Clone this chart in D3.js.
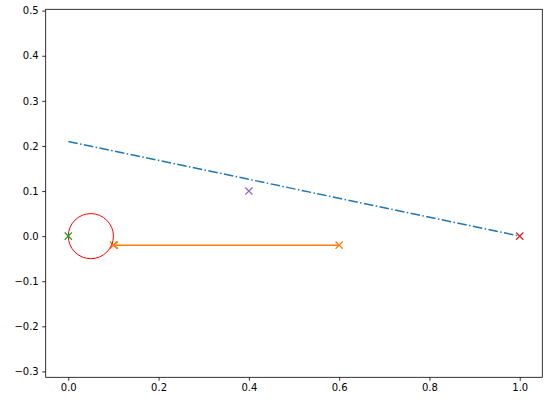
<!DOCTYPE html>
<html><head><meta charset="utf-8">
<script src="https://cdn.jsdelivr.net/npm/d3@7"></script>
<style>body{margin:0;background:#fff}</style>
</head><body>
<svg id="c" width="545" height="404"></svg>
<script>
const xTicks = [0.0, 0.2, 0.4, 0.6, 0.8, 1.0];
const yTicks = [-0.3, -0.2, -0.1, 0.0, 0.1, 0.2, 0.3, 0.4, 0.5];
const xDomain = [-0.05, 1.05];
const yDomain = [-0.313, 0.503];
// dash-dot line
const lineX = [0, 1];
const lineY = [0.21, 0];
// orange arrow segment (from -> to)
const arrowX = [0.6, 0.1];
const arrowY = [-0.02, -0.02];
// single markers
const markers = [
  {x: 0.6, y: -0.02, c: "#ff7f0e"},
  {x: 0.1, y: -0.02, c: "#ff7f0e"},
  {x: 1.0, y: 0.0, c: "#d62728"},
  {x: 0.4, y: 0.1, c: "#9467bd"}
];
const topMarkers = [
  {x: 0.0, y: 0.0, c: "#2ca02c"}
];
// circle
const circleCenter = [0.05, 0.0];
const circleRadius = 0.05;

const L = 45.7, R = 542.3, T = 9.3, B = 377.3;
const svg = d3.select("#c");
const x = d3.scaleLinear().domain(xDomain).range([L, R]);
const y = d3.scaleLinear().domain(yDomain).range([B, T]);
const fmt = d => d3.format(".1f")(d).replace("-", "\u2212");

const gx = svg.append("g").attr("transform", `translate(0,${B})`)
  .call(d3.axisBottom(x).tickValues(xTicks).tickFormat(fmt).tickSize(3.5).tickPadding(3.5));
const gy = svg.append("g").attr("transform", `translate(${L},0)`)
  .call(d3.axisLeft(y).tickValues(yTicks).tickFormat(fmt).tickSize(3.5).tickPadding(3.5));
[gx, gy].forEach(g => {
  g.select(".domain").remove();
  g.selectAll("line").attr("stroke", "#000").attr("stroke-width", 0.8);
  g.selectAll("text").attr("font-family", "DejaVu Sans").attr("font-size", 10).attr("fill", "#000");
});

svg.append("clipPath").attr("id", "clp").append("rect")
  .attr("x", L).attr("y", T).attr("width", R - L).attr("height", B - T);
const plot = svg.append("g").attr("clip-path", "url(#clp)");

const ms = 3.6;
function drawX(m) {
  const cx = x(m.x), cy = y(m.y);
  plot.append("path")
    .attr("d", `M${cx-ms},${cy-ms}L${cx+ms},${cy+ms}M${cx-ms},${cy+ms}L${cx+ms},${cy-ms}`)
    .attr("stroke", m.c).attr("stroke-width", 1.3).attr("fill", "none");
}

// dash-dot line
plot.append("path")
  .attr("d", d3.line()(lineX.map((v, i) => [x(v), y(lineY[i])])))
  .attr("fill", "none").attr("stroke", "#1f77b4").attr("stroke-width", 1.5)
  .attr("stroke-dasharray", "9.6,2.4,1.5,2.4");

markers.forEach(drawX);

// orange arrow
const x0 = x(arrowX[0]), y0 = y(arrowY[0]), x1 = x(arrowX[1]), y1 = y(arrowY[1]);
plot.append("path").attr("d", `M${x0},${y0}L${x1},${y1}`)
  .attr("stroke", "#ff7f0e").attr("stroke-width", 1.5).attr("fill", "none");
plot.append("path").attr("d", `M${x1+4.5},${y1-3.5}L${x1},${y1}L${x1+4.5},${y1+3.5}`)
  .attr("stroke", "#ff7f0e").attr("stroke-width", 1.5).attr("fill", "none");

// circle
plot.append("ellipse")
  .attr("cx", x(circleCenter[0])).attr("cy", y(circleCenter[1]))
  .attr("rx", x(circleRadius) - x(0)).attr("ry", y(0) - y(circleRadius))
  .attr("fill", "none").attr("stroke", "#ff0000").attr("stroke-width", 1);

topMarkers.forEach(drawX);

// frame
svg.append("rect").attr("x", L).attr("y", T).attr("width", R - L).attr("height", B - T)
  .attr("fill", "none").attr("stroke", "#000").attr("stroke-width", 0.8);
</script>
</body></html>
